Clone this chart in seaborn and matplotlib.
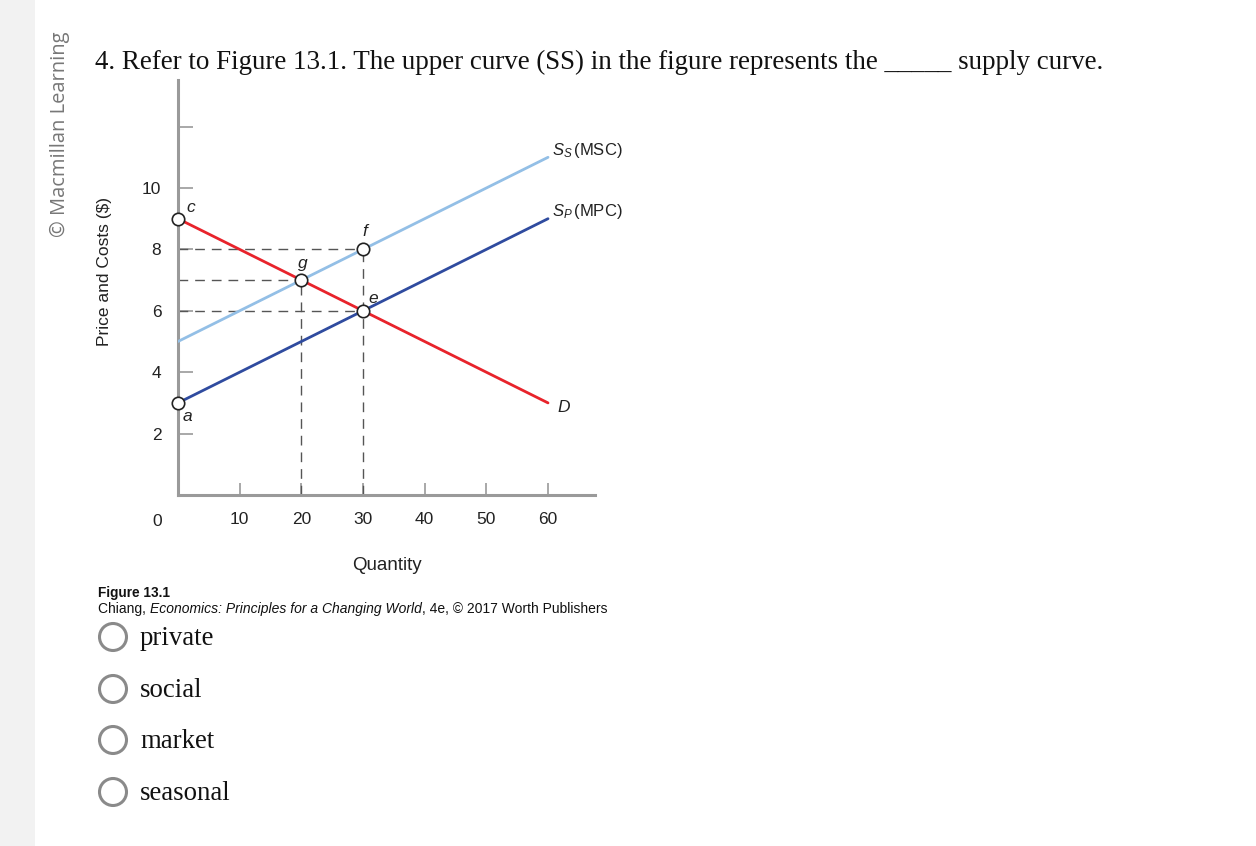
import numpy as np
import pandas as pd
import matplotlib
matplotlib.use("Agg")
import matplotlib.pyplot as plt
from matplotlib.patches import Ellipse, Rectangle
import seaborn as sns

# ---------------- data ----------------
quantity = [0, 60]
ss_msc = [5, 11]      # upper (social) supply curve
sp_mpc = [3, 9]       # private supply curve
demand = [9, 3]       # demand curve

point_labels = ["c", "a", "g", "f", "e"]
point_x = [0, 0, 20, 30, 30]
point_y = [9, 3, 7, 8, 6]

x_ticks = [10, 20, 30, 40, 50, 60]
y_ticks = [2, 4, 6, 8, 10, 12]
y_tick_labels = ["2", "4", "6", "8", "10", ""]

options = ["private", "social", "market", "seasonal"]
question = ("4. Refer to Figure 13.1. The upper curve (SS) in the figure "
            "represents the _____ supply curve.")
caption_title = "Figure 13.1"
caption_parts = [("Chiang, ", "normal"),
                 ("Economics: Principles for a Changing World", "italic"),
                 (", 4e, © 2017 Worth Publishers", "normal")]

# ---------------- style ----------------
sns.set_theme(style="white")
sans = ["Liberation Sans", "DejaVu Sans"]
serif = ["Liberation Serif", "DejaVu Serif"]
plt.rcParams["font.family"] = sans
plt.rcParams["mathtext.fontset"] = "custom"
plt.rcParams["mathtext.rm"] = "Liberation Sans"
plt.rcParams["mathtext.it"] = "Liberation Sans:italic"

W, H = 1256, 846
fig = plt.figure(figsize=(W / 100, H / 100), dpi=100)
fig.patch.set_facecolor("white")

def fx(px):
    return px / W

def fy(py):
    return 1 - py / H

# left grey strip
fig.add_artist(Rectangle((0, 0), fx(35), 1, transform=fig.transFigure,
                         facecolor="#f2f2f2", edgecolor="none", zorder=0))
fig.text(fx(60), fy(134), "© Macmillan Learning", rotation=90,
         ha="center", va="center", fontsize=14.5, color="#777777",
         family=["Open Sans", "DejaVu Sans"])

# question
fig.text(fx(95), fy(69), question, ha="left", va="baseline",
         fontsize=19.45, family=serif, color="#111111")

# ---------------- axes ----------------
ax_left, ax_right, ax_bottom, ax_top = 178, 595, 495, 80
ax = fig.add_axes([fx(ax_left), fy(ax_bottom), fx(ax_right - ax_left),
                   (ax_bottom - ax_top) / H])
px_per_x = (548 - 178) / 60.0
px_per_y = (495 - 188) / 10.0
ax.set_xlim(0, (ax_right - ax_left) / px_per_x)
ax.set_ylim(0, (ax_bottom - ax_top) / px_per_y)
ax.set_facecolor("none")

curves = pd.DataFrame({
    "Quantity": quantity * 3,
    "Price": ss_msc + sp_mpc + demand,
    "curve": ["Ss"] * 2 + ["Sp"] * 2 + ["D"] * 2,
})
palette = {"Ss": "#93bfe6", "Sp": "#2f4b9f", "D": "#e8232b"}
sns.lineplot(data=curves, x="Quantity", y="Price", hue="curve",
             palette=palette, linewidth=2.0, legend=False, ax=ax, zorder=3)

# dashed guides
dash_kw = dict(color="#555555", linewidth=1.0, linestyle=(0, (7, 5)), zorder=2)
ax.plot([0, point_x[3]], [point_y[3]] * 2, **dash_kw)
ax.plot([0, point_x[2]], [point_y[2]] * 2, **dash_kw)
ax.plot([0, point_x[4]], [point_y[4]] * 2, **dash_kw)
ax.plot([point_x[2]] * 2, [0, point_y[2]], **dash_kw)
ax.plot([point_x[3]] * 2, [0, point_y[3]], **dash_kw)

pts = pd.DataFrame({"x": point_x, "y": point_y, "lab": point_labels})
sns.scatterplot(data=pts, x="x", y="y", s=80, facecolor="white",
                edgecolor="#222222", linewidth=1.2, ax=ax, zorder=5, clip_on=False)

offsets = {"c": (6, 8), "a": (3, -10), "g": (1, 12), "f": (1, 13), "e": (4, 9)}
for lab, x, y in zip(point_labels, point_x, point_y):
    dx, dy = offsets[lab]
    ax.annotate(lab, (x, y), xytext=(dx, dy), textcoords="offset points",
                ha="left" if lab in ("c", "a", "e") else "center", va="center",
                fontsize=12.5, style="italic", color="#222222")

ax.annotate(r"$S_S\,$(MSC)", (quantity[1], ss_msc[1]), xytext=(3, 5),
            textcoords="offset points", ha="left", va="center", fontsize=12,
            color="#222222", annotation_clip=False)
ax.annotate(r"$S_P\,$(MPC)", (quantity[1], sp_mpc[1]), xytext=(3, 5),
            textcoords="offset points", ha="left", va="center", fontsize=12,
            color="#222222", annotation_clip=False)
ax.annotate("D", (quantity[1], demand[1]), xytext=(7, -3),
            textcoords="offset points", ha="left", va="center", fontsize=12.5,
            style="italic", color="#222222", annotation_clip=False)

# spines / ticks
for s in ("top", "right"):
    ax.spines[s].set_visible(False)
for s in ("left", "bottom"):
    ax.spines[s].set_color("#9a9a9a")
    ax.spines[s].set_linewidth(2.2)
ax.set_xticks(x_ticks)
ax.set_xticklabels([str(v) for v in x_ticks])
ax.set_yticks(y_ticks)
ax.set_yticklabels(y_tick_labels)
ax.tick_params(axis="y", direction="in", length=11, width=1.2, color="#9a9a9a",
               pad=12, labelsize=12.5, labelcolor="#222222", left=True)
ax.tick_params(axis="x", direction="in", length=9, width=1.2, color="#9a9a9a",
               pad=12, labelsize=12.5, labelcolor="#222222", bottom=True)
ax.annotate("0", (0, 0), xytext=(-15, -19), textcoords="offset points",
            ha="center", va="center", fontsize=12.5, color="#222222",
            annotation_clip=False)
ax.set_xlabel("Quantity", fontsize=13.5, color="#222222", labelpad=0)
ax.xaxis.set_label_coords((387 - ax_left) / (ax_right - ax_left),
                          -(557 - ax_bottom) / (ax_bottom - ax_top))
ax.set_ylabel("Price and Costs ($)", fontsize=12.5, color="#222222")
ax.yaxis.set_label_coords(-(ax_left - 112) / (ax_right - ax_left),
                          (ax_bottom - 272) / (ax_bottom - ax_top))

# caption
fig.text(fx(98), fy(593), caption_title, ha="left", va="center",
         fontsize=9.8, weight="bold", family=sans, color="#111111")
renderer = fig.canvas.get_renderer()
cur_x = 98
for txt, st in caption_parts:
    t = fig.text(fx(cur_x), fy(609), txt, ha="left", va="center",
                 fontsize=10, style=st, family=sans, color="#111111")
    bb = t.get_window_extent(renderer=renderer)
    cur_x += bb.width

# radio options
radio_y = [637, 689, 740, 792]
r = 13.5
for opt, yy in zip(options, radio_y):
    fig.add_artist(Ellipse((fx(113), fy(yy)), 2 * r / W, 2 * r / H,
                           transform=fig.transFigure, facecolor="white",
                           edgecolor="#8a8a8a", linewidth=2.2))
    fig.text(fx(140), fy(yy + 8), opt, ha="left", va="baseline", fontsize=19.3,
             family=serif, color="#111111")

fig.savefig("out.png", dpi=100)
